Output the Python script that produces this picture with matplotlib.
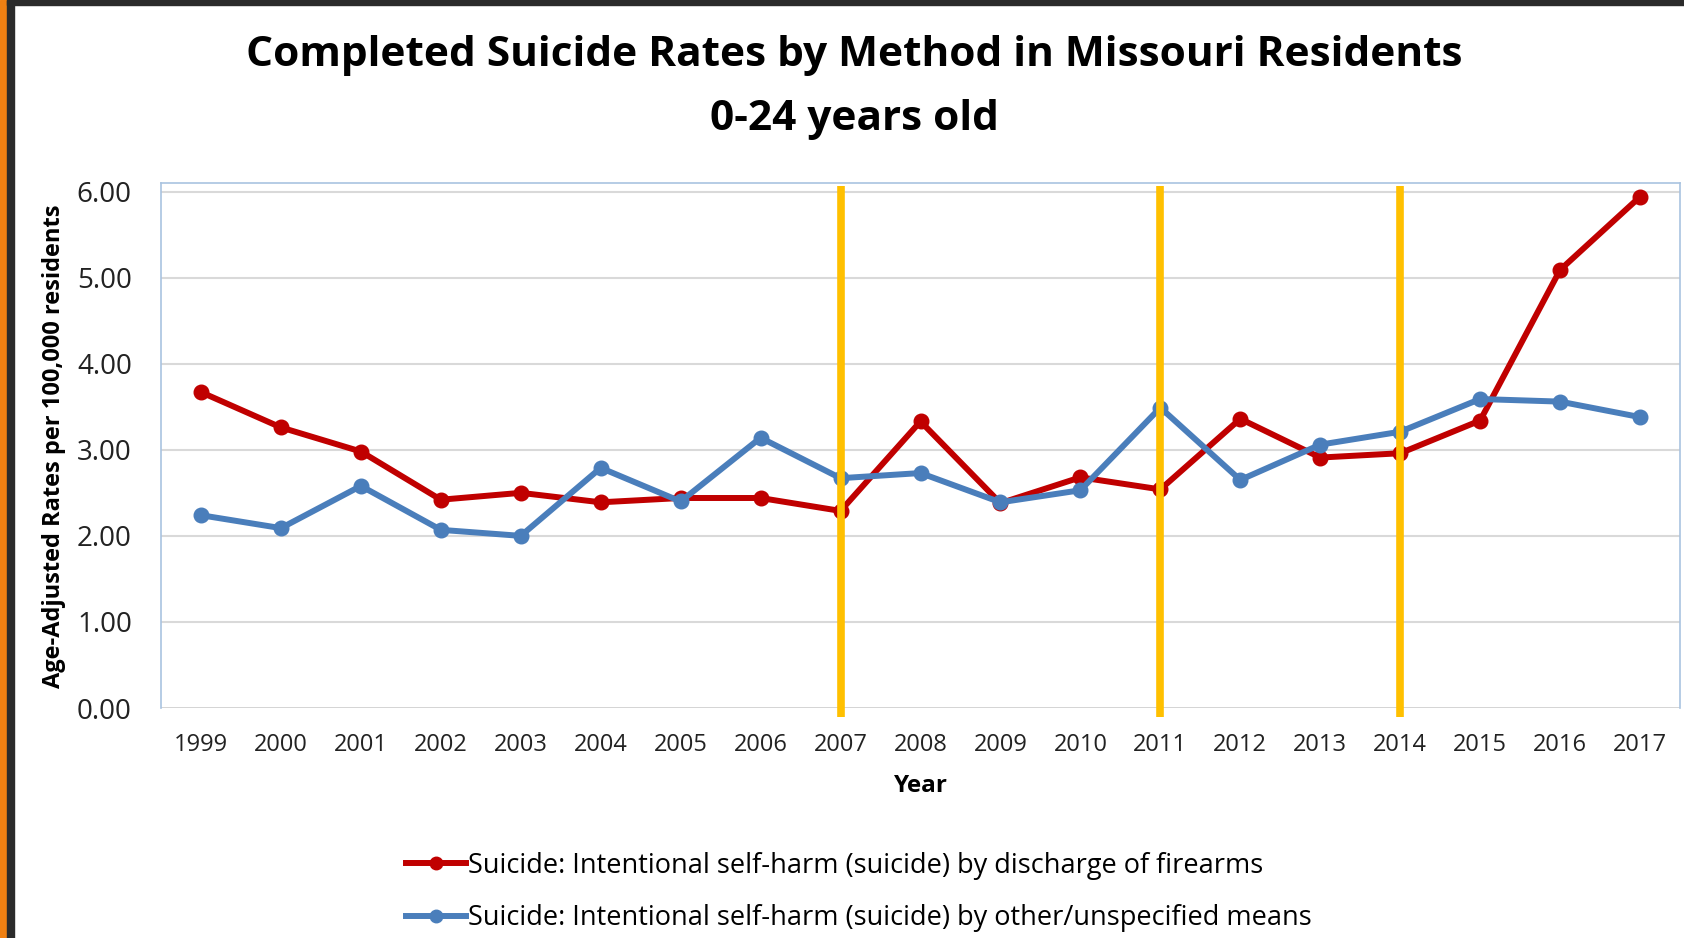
import matplotlib.pyplot as plt
from matplotlib.patches import Rectangle
from matplotlib.lines import Line2D
import numpy as np

# Missouri residents aged 0-24, age-adjusted suicide rates per 100,000
years = np.arange(1999, 2018)
firearms = [3.67, 3.26, 2.98, 2.42, 2.50, 2.39, 2.44, 2.44, 2.29, 3.33,
            2.38, 2.68, 2.54, 3.36, 2.91, 2.96, 3.34, 5.09, 5.94]
other_means = [2.24, 2.09, 2.58, 2.07, 2.00, 2.79, 2.40, 3.14, 2.67, 2.73,
               2.39, 2.53, 3.49, 2.65, 3.06, 3.21, 3.59, 3.56, 3.38]
marker_years = [2007, 2011, 2014]
yticks = [0, 1, 2, 3, 4, 5, 6]

label_fire = 'Suicide: Intentional self-harm (suicide) by discharge of firearms'
label_other = 'Suicide: Intentional self-harm (suicide) by other/unspecified means'

RED = '#C00000'
BLUE = '#4A7EBB'
GOLD = '#FFC000'

plt.rcParams['font.family'] = ['Open Sans', 'DejaVu Sans']

W, H = 1684, 938
fig = plt.figure(figsize=(W / 100, H / 100), dpi=100)
fig.patch.set_facecolor('white')

# frame strips along the left and top edge
fig.patches.append(Rectangle((0, 0), 7 / W, 1, transform=fig.transFigure,
                             color='#F08012', zorder=0))
fig.patches.append(Rectangle((7 / W, 0), 7 / W, 1, transform=fig.transFigure,
                             color='#2B2B2B', zorder=0))
fig.patches.append(Rectangle((7 / W, 1 - 5 / H), 1, 5 / H, transform=fig.transFigure,
                             color='#2B2B2B', zorder=0))

ax = fig.add_axes([161 / W, 230 / H, (1680 - 161) / W, (755 - 230) / H])
ax.set_xlim(1998.5, 2017.5)
ax.set_ylim(0, 6.1)

ax.set_yticks(yticks)
ax.set_yticklabels([f'{v:.2f}' for v in yticks])
ax.set_xticks(years)
ax.set_xticklabels([str(y) for y in years])
ax.tick_params(axis='y', length=0, pad=21, labelsize=20, labelcolor='#222222')
ax.tick_params(axis='x', length=0, pad=18, labelsize=17, labelcolor='#222222')

for v in yticks[1:]:
    ax.axhline(v, color='#D9D9D9', lw=1.5, zorder=1)
ax.axhline(0, color='#D0D0D0', lw=2, zorder=1)

for side in ['left', 'top', 'right']:
    ax.spines[side].set_color('#A9C3E0')
    ax.spines[side].set_linewidth(1.2)
ax.spines['bottom'].set_visible(False)

ax.plot(years, firearms, color=RED, lw=4.3, marker='o', ms=10.5, zorder=3)
ax.plot(years, other_means, color=BLUE, lw=4.3, marker='o', ms=10.5, zorder=3)

ax.vlines(marker_years, -0.11, 6.06, colors=GOLD, lw=5.5, zorder=4, clip_on=False)

ax.set_xlabel('Year', fontsize=17.5, fontweight='bold', labelpad=12)

fig.text(54 / W, 1 - 446 / H, 'Age-Adjusted Rates per 100,000 residents',
         rotation=90, ha='center', va='center', fontsize=17, fontweight='bold')

fig.text(854 / W, 1 - 56 / H, 'Completed Suicide Rates by Method in Missouri Residents',
         ha='center', va='center', fontsize=30.5, fontweight='bold')
fig.text(854 / W, 1 - 120 / H, '0-24 years old',
         ha='center', va='center', fontsize=30.5, fontweight='bold')

handles = [Line2D([], [], color=RED, lw=4.3, marker='o', ms=9),
           Line2D([], [], color=BLUE, lw=4.3, marker='o', ms=9)]
fig.legend(handles, [label_fire, label_other], loc='center left',
           bbox_to_anchor=(406 / W, 1 - 892 / H), frameon=False, fontsize=19.5,
           handlelength=2.2, handletextpad=0.1, labelspacing=0.9, borderpad=0,
           borderaxespad=0)

fig.savefig('out.png', dpi=100)
